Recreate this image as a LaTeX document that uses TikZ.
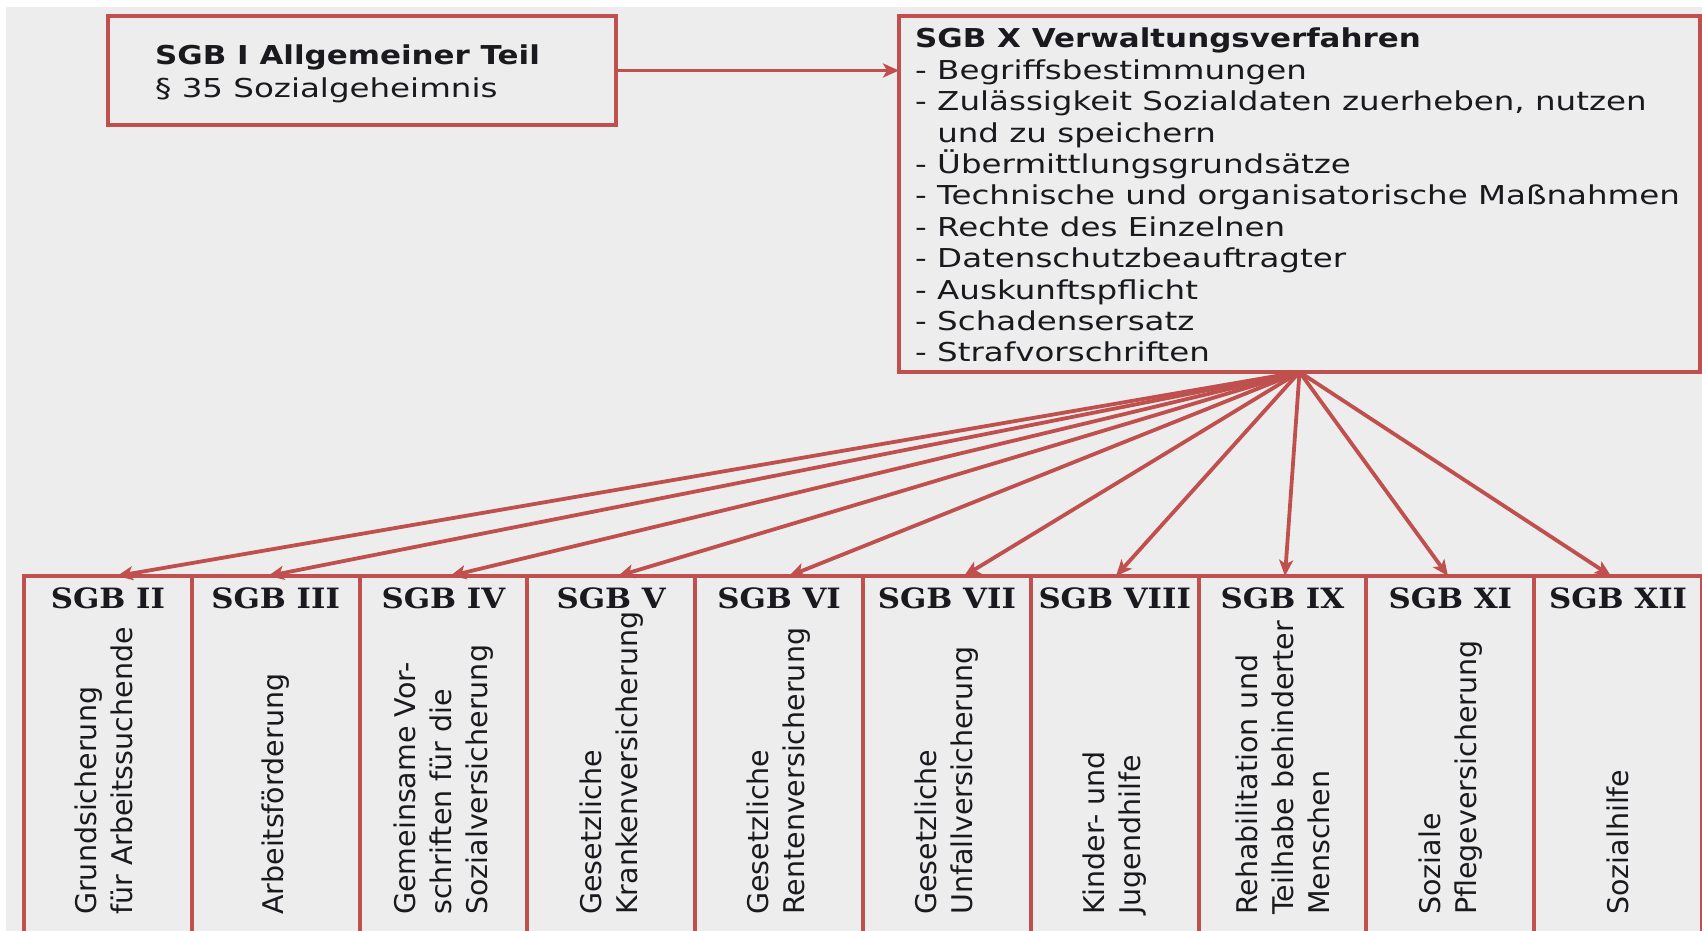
\documentclass[tikz,border=0pt]{standalone}
\usepackage{fontspec}
\usetikzlibrary{arrows.meta}
\newfontfamily\hfont[FakeStretch=1.25]{DejaVu Sans}
\newfontfamily\hbfont[FakeStretch=1.19]{DejaVu Sans}
\newfontfamily\hdfont[FakeStretch=1.1]{DejaVu Serif}
\newfontfamily\vfont{DejaVu Sans}
\definecolor{sgbred}{RGB}{192,80,77}
\definecolor{bggray}{RGB}{237,237,237}
\definecolor{ink}{RGB}{25,25,30}
\begin{document}
\begin{tikzpicture}[x=1pt,y=-1pt,
  box/.style={draw=sgbred, line width=4pt, inner sep=0pt, outer sep=0pt, anchor=north west},
  conn/.style={draw=sgbred, line width=3.8pt, -{Stealth[length=16pt,width=14pt,inset=4pt]}},
  bodytxt/.style={inner sep=0pt, anchor=north west, align=left, text=ink, font=\hfont\fontsize{26}{31.4}\selectfont},
  head/.style={inner sep=0pt, text=ink, font=\hdfont\bfseries\fontsize{28}{32}\selectfont},
  vtxt/.style={inner sep=0pt, rotate=90, anchor=west, align=left, text=ink, font=\vfont\fontsize{28.5}{36}\selectfont},
  lowbox/.style={box, minimum width=167.8pt, minimum height=370pt}]
\useasboundingbox (0,0) rectangle (1702,931);
\clip (0,0) rectangle (1702,931);
\fill[white] (0,0) rectangle (1702,931);
\fill[bggray] (6,7) rectangle (1702,931);

% top boxes
\node[box, minimum width=508pt, minimum height=109pt] (s1) at (108,16) {};
\node[bodytxt, font=\hfont\fontsize{26}{33}\selectfont] (s1t) at (155,45)
  {{\hbfont\bfseries SGB I Allgemeiner Teil}\\\S\ 35 Sozialgeheimnis};

\node[box, minimum width=801pt, minimum height=356pt] (sx) at (899,16) {};
\node[bodytxt] (sxt) at (915,28)
  {{\hbfont\bfseries SGB X Verwaltungsverfahren}\\
   - Begriffsbestimmungen\\
   - Zulässigkeit Sozialdaten zuerheben, nutzen\\
   \hphantom{- }und zu speichern\\
   - Übermittlungsgrundsätze\\
   - Technische und organisatorische Maßnahmen\\
   - Rechte des Einzelnen\\
   - Datenschutzbeauftragter\\
   - Auskunftspflicht\\
   - Schadensersatz\\
   - Strafvorschriften};

\draw[conn] (s1.east) -- (sx.west |- s1.east);

% bottom boxes
\node[lowbox] (b2)  at (24,576) {};
\node[lowbox] (b3)  at (191.8,576) {};
\node[lowbox] (b4)  at (359.6,576) {};
\node[lowbox] (b5)  at (527.4,576) {};
\node[lowbox] (b6)  at (695.2,576) {};
\node[lowbox] (b7)  at (863,576) {};
\node[lowbox] (b8)  at (1030.8,576) {};
\node[lowbox] (b9)  at (1198.6,576) {};
\node[lowbox] (b11) at (1366.4,576) {};
\node[lowbox] (b12) at (1534.2,576) {};

% headers
\node[head] (h2)  at (107.9,598) {SGB II};
\node[head] (h3)  at (275.7,598) {SGB III};
\node[head] (h4)  at (443.5,598) {SGB IV};
\node[head] (h5)  at (611.3,598) {SGB V};
\node[head] (h6)  at (779.1,598) {SGB VI};
\node[head] (h7)  at (946.9,598) {SGB VII};
\node[head] (h8)  at (1114.7,598) {SGB VIII};
\node[head] (h9)  at (1282.5,598) {SGB IX};
\node[head] (h11) at (1450.3,598) {SGB XI};
\node[head] (h12) at (1618.1,598) {SGB XII};

% vertical texts
\node[vtxt] (t2)  at (104,915) {Grundsicherung\\für Arbeitssuchende};
\node[vtxt] (t3)  at (275.7,915) {Arbeitsförderung};
\node[vtxt] (t4)  at (443.5,915) {Gemeinsame Vor-\\schriften für die\\Sozialversicherung};
\node[vtxt] (t5)  at (611.3,915) {Gesetzliche\\Krankenversicherung};
\node[vtxt] (t6)  at (779.1,915) {Gesetzliche\\Rentenversicherung};
\node[vtxt] (t7)  at (946.9,915) {Gesetzliche\\Unfallversicherung};
\node[vtxt] (t8)  at (1114.7,915) {Kinder- und\\Jugendhilfe};
\node[vtxt] (t9)  at (1282.5,915) {Rehabilitation und\\Teilhabe behinderter\\Menschen};
\node[vtxt] (t11) at (1450.3,915) {Soziale\\Pflegeversicherung};
\node[vtxt] (t12) at (1618.1,915) {Sozialhilfe};

% fan connectors
\draw[conn] (sx.south) -- (b2.north -| 117,0);
\draw[conn] (sx.south) -- (b3.north -| 268,0);
\draw[conn] (sx.south) -- (b4.north -| 450,0);
\draw[conn] (sx.south) -- (b5.north -| 618,0);
\draw[conn] (sx.south) -- (b6.north -| 789,0);
\draw[conn] (sx.south) -- (b7.north -| 964,0);
\draw[conn] (sx.south) -- (b8.north -| 1116,0);
\draw[conn] (sx.south) -- (b9.north -| 1285,0);
\draw[conn] (sx.south) -- (b11.north -| 1448,0);
\draw[conn] (sx.south) -- (b12.north -| 1611,0);
\end{tikzpicture}
\end{document}
